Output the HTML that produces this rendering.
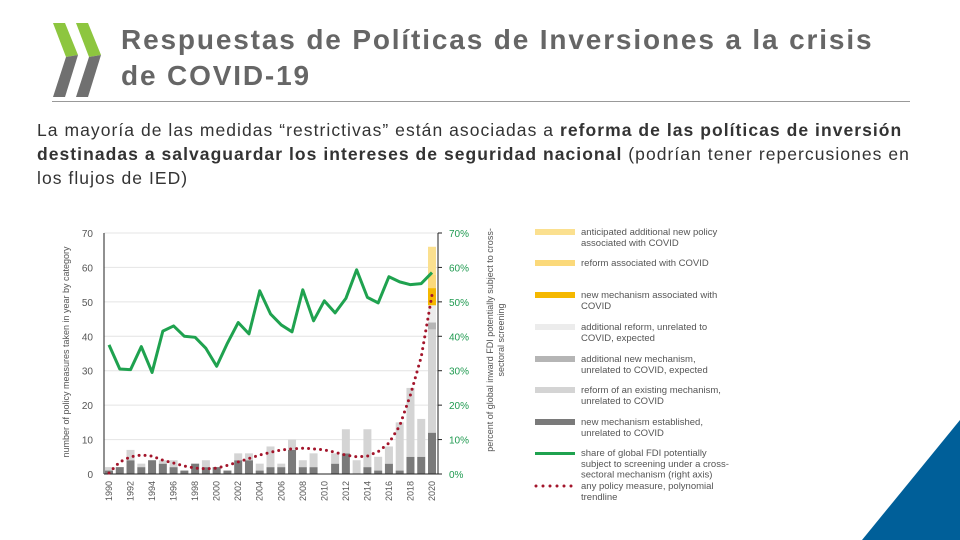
<!DOCTYPE html>
<html><head><meta charset="utf-8"><style>
body{margin:0;width:960px;height:540px;overflow:hidden;background:#fff;font-family:"Liberation Sans",sans-serif;position:relative}
.title{position:absolute;left:121px;top:22px;font-size:28px;line-height:36px;color:#666;font-weight:bold;letter-spacing:1.85px;white-space:nowrap}
.body{position:absolute;left:37px;top:118px;width:900px;font-size:17.5px;line-height:24px;color:#333;letter-spacing:1.05px}
</style></head><body>
<svg style="position:absolute;left:50px;top:20px" width="56" height="80" viewBox="0 0 56 80">
<polygon points="3,3 15,3 28,35 16,37" fill="#8dc63f"/><polygon points="16,37 28,35 15,77 3,77" fill="#707070"/>
<polygon points="26,3 38,3 51,35 39,37" fill="#8dc63f"/><polygon points="39,37 51,35 38,77 26,77" fill="#707070"/>
</svg>
<div class="title">Respuestas de Políticas de Inversiones a la crisis<br>de COVID-19</div>
<div style="position:absolute;left:52px;top:101px;width:858px;height:1px;background:#999"></div>
<div class="body">La mayoría de las medidas “restrictivas” están asociadas a <b>reforma de las políticas de inversión destinadas a salvaguardar los intereses de seguridad nacional</b> (podrían tener repercusiones en los flujos de IED)</div>
<svg style="position:absolute;left:0;top:0" width="960" height="540"><polygon points="960,420 960,540 862,540" fill="#005f99"/></svg>
<svg id="chart" style="position:absolute;left:0;top:0" width="960" height="540" font-family="Liberation Sans, sans-serif"></svg>
<script>
const years=[1990,1991,1992,1993,1994,1995,1996,1997,1998,1999,2000,2001,2002,2003,2004,2005,2006,2007,2008,2009,2010,2011,2012,2013,2014,2015,2016,2017,2018,2019,2020];
const newMech=[1,2,4,2,4,3,2,1,3,2,2,1,4,4,1,2,2,7,2,2,0,3,6,0,2,1,3,1,5,5,12];
const reform=[1,0,3,1,0,1,2,0,0,2,0,0,2,2,2,6,1,3,2,4,0,3,7,4,11,4,5,14,20,11,30];
const addNewExp=[0,0,0,0,0,0,0,0,0,0,0,0,0,0,0,0,0,0,0,0,0,0,0,0,0,0,0,0,0,0,2];
const addReformExp=[0,0,0,0,0,0,0,0,0,0,0,0,0,0,0,0,0,0,0,0,0,0,0,0,0,0,0,0,0,0,5];
const newCovid=[0,0,0,0,0,0,0,0,0,0,0,0,0,0,0,0,0,0,0,0,0,0,0,0,0,0,0,0,0,0,5];
const reformCovid=[0,0,0,0,0,0,0,0,0,0,0,0,0,0,0,0,0,0,0,0,0,0,0,0,0,0,0,0,0,0,4];
const anticipated=[0,0,0,0,0,0,0,0,0,0,0,0,0,0,0,0,0,0,0,0,0,0,0,0,0,0,0,0,0,0,8];
const fdiShare=[37.5,30.5,30.3,37,29.5,41.5,43,40,39.7,36.5,31.3,38,44,40.7,53.2,46.5,43.3,41.3,53.5,44.5,50.3,46.8,51,59.3,51.3,49.7,57.3,55.8,55,55.3,58.5];
const trend=[0.3,3.5,5,5.5,5.2,4,3.2,2.3,1.7,1.5,1.7,2.5,3.5,4.5,5.5,6.3,7,7.3,7.5,7.3,7,6.3,5.5,5,5.2,6.5,9,14,23,34,52];
const leftTicks=[0,10,20,30,40,50,60,70];
const rightTicks=["0%","10%","20%","30%","40%","50%","60%","70%"];
const legendItems=[["anticipated additional new policy","associated with COVID"],["reform associated with COVID"],["new mechanism associated with","COVID"],["additional reform, unrelated to","COVID, expected"],["additional new mechanism,","unrelated to COVID, expected"],["reform of an existing mechanism,","unrelated to COVID"],["new mechanism established,","unrelated to COVID"],["share of global FDI potentially","subject to screening under a cross-","sectoral mechanism (right axis)"],["any policy measure, polynomial","trendline"]];
const ns="http://www.w3.org/2000/svg",svg=document.getElementById('chart');
const X0=104,X1=438,Y0=474,Ytop=233;
const x=i=>109+i*(432-109)/(years.length-1);
const y=v=>Y0-v*(Y0-Ytop)/70;
const yr=p=>y(p);
function mk(t,a,p){const e=document.createElementNS(ns,t);for(const k in a)e.setAttribute(k,a[k]);(p||svg).appendChild(e);return e;}
leftTicks.forEach((t,i)=>{
 const g=mk('line',{x1:X0,x2:X1,y1:y(t),y2:y(t),stroke:'#e4e4e4','stroke-width':1});
 
 
 const l=mk('text',{x:93,y:y(t)+4,'font-size':10,fill:'#555','text-anchor':'end'});l.textContent=t;
 
 
 const r=mk('text',{x:449,y:y(t)+4,'font-size':10,fill:'#1f9a50'});r.textContent=rightTicks[i];
 
 
 mk('line',{x1:X1,x2:X1+4,y1:y(t),y2:y(t),stroke:'#222'});
});
const series=[[newMech,'#7a7a7a'],[reform,'#d4d4d4'],[addNewExp,'#b5b5b5'],[addReformExp,'#ececec'],[newCovid,'#f5b800'],[reformCovid,'#fbd97a'],[anticipated,'#fbe08f']];
years.forEach((yv,i)=>{
 let base=0;
 series.forEach(([arr,c])=>{const v=arr[i];if(v>0){const r=mk('rect',{x:x(i)-4,y:y(base+v),width:8,height:y(base)-y(base+v),fill:c});
 
 }base+=v;});
 if(i%2===0){const t=mk('text',{transform:`translate(${x(i)+3},${Y0+27}) rotate(-90)`,'font-size':9,fill:'#555'});t.textContent=yv;
 
 }
});
mk('line',{x1:X0,x2:X1,y1:Y0,y2:Y0,stroke:'#222'});
mk('line',{x1:X0,x2:X0,y1:Ytop,y2:Y0,stroke:'#222'});
mk('line',{x1:X1,x2:X1,y1:Ytop,y2:Y0,stroke:'#222'});
const gl=mk('polyline',{points:fdiShare.map((v,i)=>x(i)+','+yr(v)).join(' '),fill:'none',stroke:'#1fa24f','stroke-width':3,'stroke-linejoin':'round'});


const tl=mk('polyline',{points:trend.map((v,i)=>x(i)+','+y(v)).join(' '),fill:'none',stroke:'#a3152b','stroke-width':3,'stroke-dasharray':'0 6','stroke-linecap':'round'});


const yt=mk('text',{transform:'translate(69,352) rotate(-90)','font-size':9,fill:'#555','text-anchor':'middle'});yt.textContent='number of policy measures taken in year by category';


const y2=mk('text',{transform:'translate(493,340) rotate(-90)','font-size':9,fill:'#555','text-anchor':'middle'});


mk('tspan',{x:0,dy:0},y2).textContent='percent of global inward FDI potentially subject to cross-';
mk('tspan',{x:0,dy:11},y2).textContent='sectoral screening';
const lc=['#fbe08f','#fbd97a','#f5b800','#ececec','#b5b5b5','#d4d4d4','#7a7a7a','#1fa24f','#a3152b'];
const ly=[232,263,295,327,359,390,422,453,486];
legendItems.forEach((lines,i)=>{
 const sy=ly[i];
 if(i===8){const d=mk('line',{x1:536,x2:573,y1:sy,y2:sy,stroke:lc[i],'stroke-width':3,'stroke-dasharray':'0 7','stroke-linecap':'round'});
 
 }
 else{const r=mk('rect',{x:535,y:sy-(i===7?1:3),width:40,height:i===7?3:6,fill:lc[i]});
 
 }
 const t=mk('text',{x:581,y:sy+3,'font-size':9.5,fill:'#555'});
 
 
 lines.forEach((s,j)=>{mk('tspan',{x:581,dy:j?10.8:0},t).textContent=s;});
});
</script>
</body></html>
